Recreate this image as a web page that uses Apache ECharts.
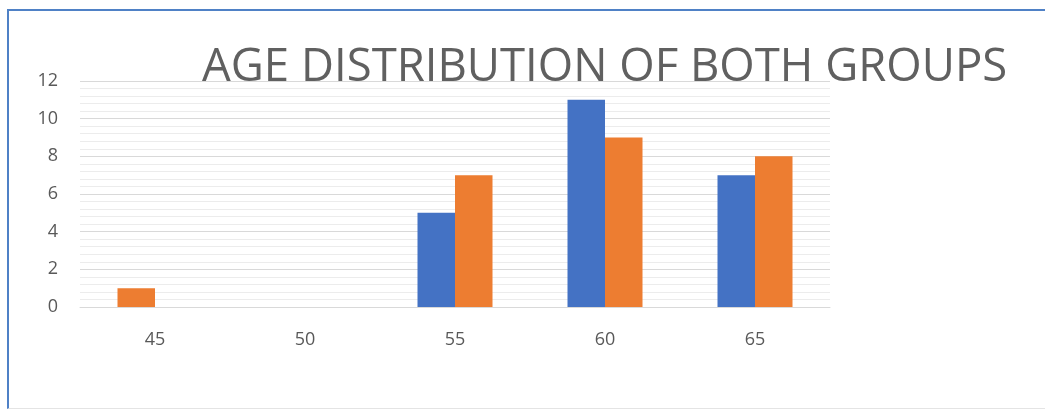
<!DOCTYPE html>
<html>
<head>
<meta charset="utf-8">
<script src="https://cdn.jsdelivr.net/npm/echarts@6/dist/echarts.min.js"></script>
<style>
html,body{margin:0;padding:0;background:#fff;}
#frame{position:absolute;left:7px;top:9px;width:1045px;height:400px;border-left:2px solid #4f81c6;border-top:2px solid #4f81c6;border-bottom:1px solid #e4e4e4;box-sizing:border-box;}
#chart{position:absolute;left:0;top:0;width:1045px;height:412px;}
</style>
</head>
<body>
<div id="frame"></div>
<div id="chart"></div>
<script>
var categories = ['45', '50', '55', '60', '65'];
var group1 = [0, 0, 5, 11, 7];
var group2 = [1, 0, 7, 9, 8];
var yTicks = [0, 2, 4, 6, 8, 10, 12];

var BLUE = '#4472c4', ORANGE = '#ed7d31';

// In the reference the lone orange bar at "45" sits in the left slot
// (the blue series has no bar there), so draw it in that slot.
var leftSlot = group1.map(function (v, i) {
  if (!v && group2[i] && i === 0) return {value: group2[i], itemStyle: {color: ORANGE}};
  return v;
});
var rightSlot = group2.map(function (v, i) {
  if (!group1[i] && v && i === 0) return 0;
  return v;
});

var chart = echarts.init(document.getElementById('chart'), null, {renderer: 'canvas'});
chart.setOption({
  animation: false,
  backgroundColor: 'transparent',
  title: {
    text: 'AGE DISTRIBUTION OF BOTH GROUPS',
    left: 197,
    top: 40,
    textStyle: {
      fontFamily: 'Open Sans',
      fontWeight: 'normal',
      fontSize: 45.5,
      color: '#606060'
    }
  },
  grid: {left: 80, right: 215, top: 81, bottom: 105},
  xAxis: {
    type: 'category',
    data: categories,
    axisLine: {show: true, lineStyle: {color: '#d9d9d9', width: 1}},
    axisTick: {show: false},
    axisLabel: {color: '#595959', fontSize: 18, fontFamily: 'Open Sans', margin: 24}
  },
  yAxis: {
    type: 'value',
    min: yTicks[0],
    max: yTicks[yTicks.length - 1],
    interval: 2,
    axisLine: {show: false},
    axisTick: {show: false},
    axisLabel: {color: '#595959', fontSize: 18, fontFamily: 'Open Sans', margin: 22},
    splitLine: {lineStyle: {color: '#d9d9d9', width: 1}},
    minorTick: {show: false, splitNumber: 5},
    minorSplitLine: {show: true, lineStyle: {color: '#ececec', width: 1}}
  },
  series: [
    {
      name: 'Group 1',
      type: 'bar',
      data: leftSlot,
      barGap: '0%',
      barCategoryGap: '50%',
      itemStyle: {color: BLUE}
    },
    {
      name: 'Group 2',
      type: 'bar',
      data: rightSlot,
      barGap: '0%',
      barCategoryGap: '50%',
      itemStyle: {color: ORANGE}
    }
  ]
});
</script>
</body>
</html>
